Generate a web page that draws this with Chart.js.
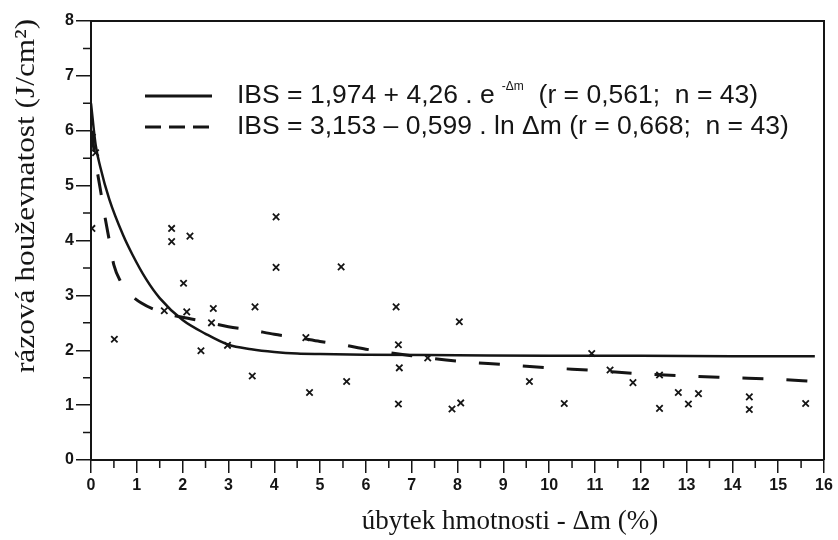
<!DOCTYPE html>
<html lang="cs">
<head>
<meta charset="utf-8">
<title>Rázová houževnatost</title>
<script src="https://cdn.jsdelivr.net/npm/chart.js@4.4.1/dist/chart.umd.min.js"></script>
<style>
    html, body { margin: 0; padding: 0; background: #fff; }
    #graf { display: block; }
</style>
</head>
<body>
<canvas id="graf" width="838" height="540"></canvas>
<script>
// Mesures: úbytek hmotnosti (%) i rázová houževnatost (J/cm2)
const puntsX = [0.03, 0.1, 0.02, 0.51, 1.6, 1.76, 1.76, 2.16, 2.02, 2.09, 2.67, 2.63, 2.4, 2.98, 3.58,
    3.52, 4.04, 4.04, 5.46, 4.69, 4.77, 5.58, 6.66, 6.71, 6.73, 6.71, 7.35, 7.88, 8.07, 8.04,
    9.57, 10.33, 10.93, 11.33, 11.83, 12.41, 12.41, 12.82, 13.04, 13.26, 14.37, 14.37, 15.6];
const puntsY = [5.88, 5.6, 4.22, 2.2, 2.72, 4.22, 3.98, 4.08, 3.22, 2.7, 2.76, 2.5, 1.99, 2.09, 2.79,
    1.53, 4.43, 3.51, 3.52, 2.23, 1.23, 1.43, 2.79, 2.1, 1.68, 1.02, 1.86, 0.93, 1.04, 2.52,
    1.43, 1.03, 1.94, 1.64, 1.41, 1.55, 0.94, 1.23, 1.02, 1.21, 1.15, 0.92, 1.03];

// Corba exponencial (línia contínua)
const corbaExpX = [0, 0.1, 0.2, 0.4, 0.7, 0.9, 1.2, 1.5, 2, 2.5, 3, 3.5, 4, 4.5, 5, 6, 8, 10, 12, 14, 15.8];
const corbaExpY = [6.5, 5.75, 5.35, 4.75, 4.1, 3.75, 3.3, 2.95, 2.55, 2.3, 2.1, 2.02, 1.97, 1.94, 1.93,
    1.92, 1.91, 1.9, 1.9, 1.89, 1.89];

// Corba logarítmica (línia discontínua)
const corbaLnX = [0.02, 0.05, 0.1, 0.2, 0.3, 0.4, 0.5, 0.65, 0.8, 1.1, 1.6, 2, 2.5, 3, 3.5, 4, 4.5, 5,
    5.5, 6, 7, 8, 9, 10, 11, 12, 13, 14, 15, 15.8];
const corbaLnY = [6.0, 5.75, 5.45, 4.95, 4.45, 4.0, 3.55, 3.25, 3.07, 2.86, 2.68, 2.6, 2.52, 2.43, 2.37,
    2.29, 2.23, 2.16, 2.1, 2.02, 1.9, 1.8, 1.74, 1.68, 1.63, 1.57, 1.53, 1.5, 1.47, 1.43];

const titolX = 'úbytek hmotnosti - Δm (%)';
const titolY = 'rázová houževnatost (J/cm²)';
const llegenda = [
    { text: 'IBS = 1,974 + 4,26 . e', sup: '-Δm', rest: '  (r = 0,561;  n = 43)', dash: [] },
    { text: 'IBS = 3,153 – 0,599 . ln Δm (r = 0,668;  n = 43)', sup: '', rest: '', dash: [16, 8] }
];

const INK = '#151515';
const FONT_SANS = '"Liberation Sans", Arial, sans-serif';
const FONT_SERIF = '"Liberation Serif", "Times New Roman", serif';
const parells = (xs, ys) => xs.map((x, i) => ({ x: x, y: ys[i] }));

/**
 * Marc superior/dret, ticks menors, títols dels eixos i llegenda
 */
const decoracio = {
    id: 'decoracio',
    afterDraw(chart) {
        const { ctx, chartArea: a, scales: { x, y } } = chart;
        ctx.save();
        ctx.strokeStyle = INK;
        ctx.lineWidth = 2;
        ctx.beginPath();
        ctx.moveTo(a.left, a.top);
        ctx.lineTo(a.right, a.top);
        ctx.lineTo(a.right, a.bottom);
        ctx.stroke();

        // ticks menors cada 0,5
        ctx.lineWidth = 1.5;
        ctx.beginPath();
        for (let v = 0.5; v < 16; v += 1) {
            const px = x.getPixelForValue(v);
            ctx.moveTo(px, a.bottom);
            ctx.lineTo(px, a.bottom + 8);
        }
        for (let v = 0.5; v < 8; v += 1) {
            const py = y.getPixelForValue(v);
            ctx.moveTo(a.left, py);
            ctx.lineTo(a.left - 8, py);
        }
        ctx.stroke();

        // títols
        ctx.fillStyle = INK;
        ctx.textAlign = 'center';
        ctx.textBaseline = 'middle';
        ctx.font = '27px ' + FONT_SERIF;
        ctx.fillText(titolX, 510, 522);
        ctx.translate(27, 196);
        ctx.rotate(-Math.PI / 2);
        ctx.scale(1.12, 1);
        ctx.font = '28px ' + FONT_SERIF;
        ctx.fillText(titolY, 0, 0);
        ctx.restore();

        // llegenda
        ctx.save();
        ctx.fillStyle = INK;
        ctx.strokeStyle = INK;
        ctx.textBaseline = 'middle';
        llegenda.forEach((item, i) => {
            const yy = 96 + i * 31;
            ctx.lineWidth = 3;
            ctx.setLineDash(item.dash);
            ctx.beginPath();
            ctx.moveTo(145, yy);
            ctx.lineTo(212, yy);
            ctx.stroke();
            ctx.setLineDash([]);
            ctx.font = '26.5px ' + FONT_SANS;
            let xx = 237;
            ctx.fillText(item.text, xx, yy);
            xx += ctx.measureText(item.text).width + 7;
            if (item.sup) {
                ctx.font = '12px ' + FONT_SANS;
                ctx.fillText(item.sup, xx, yy - 9);
                xx += ctx.measureText(item.sup).width;
                ctx.font = '26.5px ' + FONT_SANS;
                ctx.fillText(item.rest, xx, yy);
            }
        });
        ctx.restore();
    }
};

const ctx = document.getElementById('graf').getContext('2d');
new Chart(ctx, {
    type: 'scatter',
    data: {
        datasets: [
            {
                label: 'IBS exp',
                type: 'line',
                data: parells(corbaExpX, corbaExpY),
                borderColor: INK,
                borderWidth: 2.5,
                pointRadius: 0,
                cubicInterpolationMode: 'monotone',
                fill: false
            },
            {
                label: 'IBS ln',
                type: 'line',
                data: parells(corbaLnX, corbaLnY),
                borderColor: INK,
                borderWidth: 3,
                borderDash: [21, 23],
                pointRadius: 0,
                cubicInterpolationMode: 'monotone',
                fill: false
            },
            {
                label: 'měření',
                data: parells(puntsX, puntsY),
                pointStyle: 'crossRot',
                pointRadius: 4.5,
                borderColor: INK,
                borderWidth: 1.8
            }
        ]
    },
    options: {
        responsive: false,
        animation: false,
        layout: { padding: { top: 21, right: 14, left: 0, bottom: 0 } },
        plugins: {
            legend: { display: false },
            tooltip: { enabled: false }
        },
        scales: {
            x: {
                type: 'linear',
                min: 0,
                max: 16,
                afterFit: (s) => { s.height = 80; },
                border: { display: true, color: INK, width: 2 },
                grid: { drawOnChartArea: false, drawTicks: true, tickLength: 13, color: INK, lineWidth: 1.5 },
                ticks: {
                    stepSize: 1,
                    color: INK,
                    padding: 3,
                    maxRotation: 0,
                    font: { family: FONT_SANS, size: 16, weight: 'bold' }
                }
            },
            y: {
                min: 0,
                max: 8,
                afterFit: (s) => { s.width = 91; },
                border: { display: true, color: INK, width: 2 },
                grid: { drawOnChartArea: false, drawTicks: true, tickLength: 15, color: INK, lineWidth: 1.5 },
                ticks: {
                    stepSize: 1,
                    color: INK,
                    padding: 2,
                    font: { family: FONT_SANS, size: 16, weight: 'bold' }
                }
            }
        }
    },
    plugins: [decoracio]
});
</script>
</body>
</html>
